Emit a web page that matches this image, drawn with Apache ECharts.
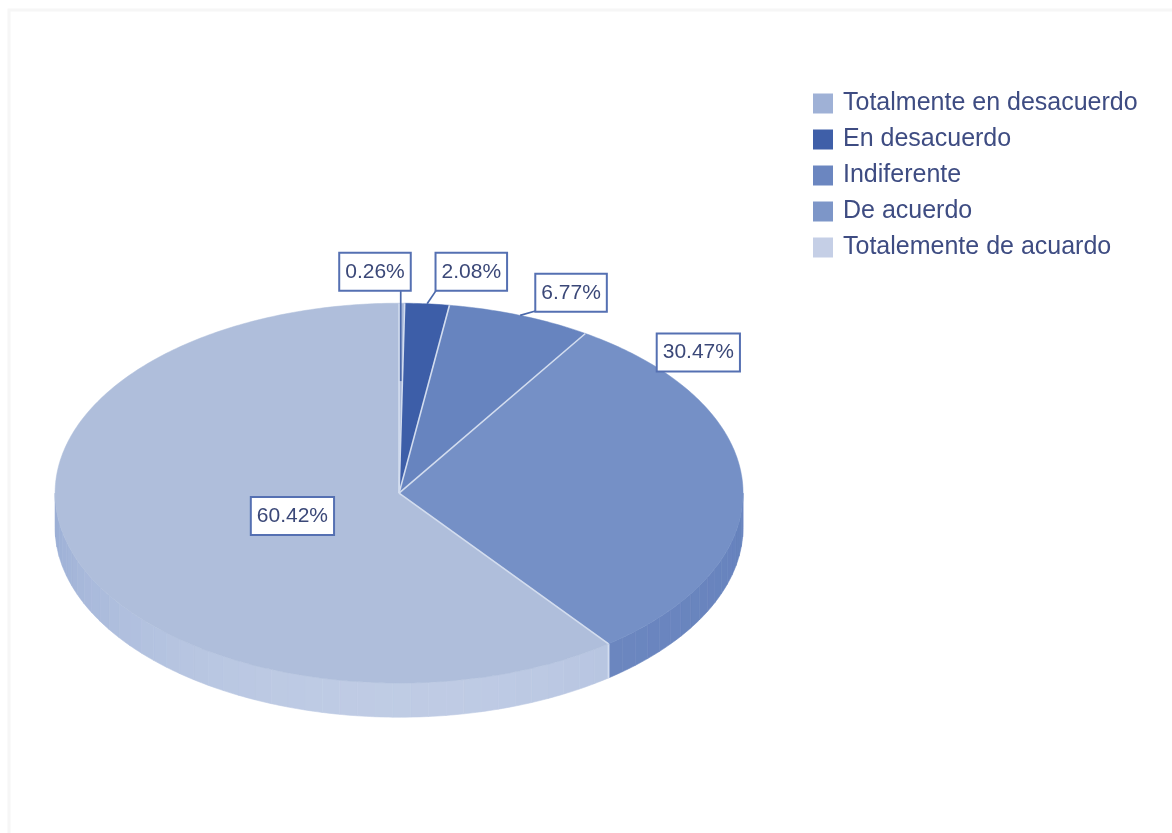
<!DOCTYPE html>
<html>
<head>
<meta charset="utf-8">
<script src="https://cdn.jsdelivr.net/npm/echarts@6/dist/echarts.min.js"></script>
<style>
  html, body { margin: 0; padding: 0; background: #ffffff; }
  #chart { width: 1172px; height: 833px; }
</style>
</head>
<body>
<div id="chart"></div>
<script>
// Survey answers and their share of responses (%)
const categories = [
  'Totalmente en desacuerdo',
  'En desacuerdo',
  'Indiferente',
  'De acuerdo',
  'Totalemente de acuardo'
];
const percentages = [0.26, 2.08, 6.77, 30.47, 60.42];

// Palette: top faces, legend swatches and the rim of the disc
const sliceColors  = ['#a7b7d8', '#3d5ea8', '#6784bf', '#7590c6', '#afbedb'];
const legendColors = ['#9fb1d6', '#3f5fa8', '#6b86c0', '#7d96c8', '#c5cfe6'];
const sideColors   = ['#97a9d0', '#34529a', '#5c78b4', '#6682bd', '#98acd4'];
const sideGloss    = [0.30, 0.10, 0.10, 0.04, 0.38];

// Where each value box sits, in units of the ellipse radii (y grows upward)
const labelSpots  = [[-0.07, 1.165], [0.21, 1.165], [0.50, 1.055], [0.87, 0.74], [-0.31, -0.12]];
// How far into the slice each leader line reaches (0 = no leader)
const leaderReach = [0.59, 1.0, 1.0, 0, 0];

const LABEL_FONT = '21px "Liberation Sans", Arial, sans-serif';
const DEG = Math.PI / 180;

// Angular span of every slice, clockwise from 12 o'clock
const total = percentages.reduce((a, b) => a + b, 0);
const spans = [];
let acc = 0;
percentages.forEach(v => {
  const a0 = acc / total * 360;
  acc += v;
  spans.push([a0, acc / total * 360]);
});

function geom(api) {
  const w = api.getWidth(), h = api.getHeight();
  return { cx: w * 0.3405, cy: h * 0.592, rx: w * 0.2935, ry: h * 0.228, depth: h * 0.041 };
}
function pt(g, t, r, dy) {
  return [g.cx + g.rx * r * Math.sin(t * DEG), g.cy - g.ry * r * Math.cos(t * DEG) + (dy || 0)];
}
function arc(g, t0, t1, dy) {
  const n = Math.max(2, Math.ceil((t1 - t0) / 0.75));
  const out = [];
  for (let k = 0; k <= n; k++) out.push(pt(g, t0 + (t1 - t0) * k / n, 1, dy));
  return out;
}
function mixWhite(hex, w) {
  const c = parseInt(hex.slice(1), 16);
  const r = (c >> 16) & 255, gg = (c >> 8) & 255, b = c & 255;
  const f = x => Math.round(x + (255 - x) * w);
  return 'rgb(' + f(r) + ',' + f(gg) + ',' + f(b) + ')';
}

const measureCtx = document.createElement('canvas').getContext('2d');
measureCtx.font = LABEL_FONT;

// Rim of the disc (front half only)
function renderSide(params, api) {
  const i = params.dataIndex;
  const g = geom(api);
  const a = Math.max(spans[i][0], 90), b = Math.min(spans[i][1], 270);
  const children = [];
  if (b > a) {
    const n = Math.max(1, Math.ceil((b - a) / 3));
    for (let k = 0; k < n; k++) {
      const s0 = a + (b - a) * k / n, s1 = a + (b - a) * (k + 1) / n;
      const mid = (s0 + s1) / 2;
      const w = sideGloss[i] * Math.max(0, Math.cos((mid - 180) * DEG));
      const col = mixWhite(sideColors[i], w);
      const top = arc(g, s0, s1, 0);
      const bottom = arc(g, s0, s1, g.depth).reverse();
      children.push({
        type: 'polygon',
        shape: { points: top.concat(bottom) },
        style: { fill: col, stroke: col, lineWidth: 0.6 }
      });
    }
    // light seam where two slices meet on the rim
    [spans[i][0], spans[i][1]].forEach(t => {
      if (t > 90 && t < 270) {
        const p = pt(g, t, 1, 0);
        children.push({
          type: 'line', z2: 10,
          shape: { x1: p[0], y1: p[1], x2: p[0], y2: p[1] + g.depth },
          style: { stroke: '#d3ddef', lineWidth: 1.5 }
        });
      }
    });
  }
  return { type: 'group', children };
}

// Top faces of the slices
function renderTop(params, api) {
  const i = params.dataIndex;
  const g = geom(api);
  const [t0, t1] = spans[i];
  const pts = [[g.cx, g.cy]].concat(arc(g, t0, t1, 0));
  const edge = pt(g, t0, 1, 0);
  return {
    type: 'group',
    children: [
      { type: 'polygon', shape: { points: pts }, style: { fill: sliceColors[i], stroke: sliceColors[i], lineWidth: 0.5 } },
      {
        type: 'line', z2: 10,
        shape: { x1: g.cx, y1: g.cy, x2: edge[0], y2: edge[1] },
        style: { stroke: '#d3ddef', lineWidth: 1.6 }
      }
    ]
  };
}

// Value boxes and leader lines
function renderLabel(params, api) {
  const i = params.dataIndex;
  const g = geom(api);
  const text = api.value(0).toFixed(2) + '%';
  const bx = g.cx + g.rx * labelSpots[i][0];
  const by = g.cy - g.ry * labelSpots[i][1];
  const halfW = measureCtx.measureText(text).width / 2 + 6;
  const halfH = 18;
  const children = [];
  if (leaderReach[i] > 0) {
    const mid = (spans[i][0] + spans[i][1]) / 2;
    const end = pt(g, mid, leaderReach[i], 0);
    const sx = Math.min(Math.max(end[0], bx - halfW + 1), bx + halfW - 1);
    children.push({
      type: 'line',
      shape: { x1: sx, y1: by + halfH, x2: end[0], y2: end[1] },
      style: { stroke: '#4a68aa', lineWidth: 1.7 }
    });
  }
  children.push({
    type: 'text', z2: 20,
    x: bx, y: by,
    style: {
      text: text,
      font: LABEL_FONT,
      fill: '#3b4878',
      align: 'center',
      verticalAlign: 'middle',
      backgroundColor: '#ffffff',
      borderColor: '#5570b2',
      borderWidth: 2,
      padding: [8, 5, 7, 5]
    }
  });
  return { type: 'group', children };
}

const chart = echarts.init(document.getElementById('chart'), null, { renderer: 'canvas' });
chart.setOption({
  animation: false,
  backgroundColor: '#ffffff',
  graphic: [{
    type: 'rect', silent: true,
    shape: { x: 9, y: 10, width: 1180, height: 840 },
    style: { fill: 'none', stroke: '#f6f6f6', lineWidth: 3 }
  }],
  legend: {
    orient: 'vertical',
    left: 808,
    top: 86,
    icon: 'rect',
    itemWidth: 20,
    itemHeight: 20,
    itemGap: 11,
    selectedMode: false,
    textStyle: {
      fontFamily: '"Liberation Sans", Arial, sans-serif',
      fontSize: 25,
      color: '#3e4c82',
      padding: [0, 0, 0, 5]
    },
    data: categories
  },
  series: [
    {
      // carries the legend entries and their swatch colours
      type: 'pie',
      name: 'leyenda',
      center: [-50, -50],
      radius: [0, 1],
      silent: true,
      label: { show: false },
      labelLine: { show: false },
      data: categories.map((name, i) => ({ name, value: percentages[i], itemStyle: { color: legendColors[i] } }))
    },
    { type: 'custom', name: 'rim', coordinateSystem: 'none', silent: true, z: 1, renderItem: renderSide, data: percentages },
    { type: 'custom', name: 'top', coordinateSystem: 'none', silent: true, z: 2, renderItem: renderTop, data: percentages },
    { type: 'custom', name: 'labels', coordinateSystem: 'none', silent: true, z: 3, renderItem: renderLabel, data: percentages }
  ]
});
</script>
</body>
</html>
